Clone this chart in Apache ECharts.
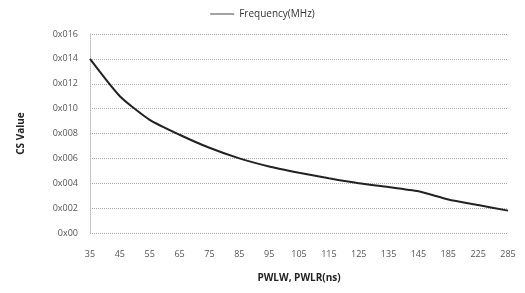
<!DOCTYPE html>
<html>
<head>
<meta charset="utf-8">
<script src="https://cdn.jsdelivr.net/npm/echarts@6/dist/echarts.min.js"></script>
<style>
html,body{margin:0;padding:0;background:#fff;}
#main{width:525px;height:293px;}
</style>
</head>
<body>
<div id="main"></div>
<script>
// PWLW, PWLR (ns) categories
var categories = ['35','45','55','65','75','85','95','105','115','125','135','145','185','225','285'];
// CS value, in units of 0x001 as drawn on the axis
var csValues = [14, 11, 9.1, 7.9, 6.85, 6.0, 5.35, 4.85, 4.4, 4.0, 3.7, 3.35, 2.7, 2.25, 1.8];
var yTicks = [0, 2, 4, 6, 8, 10, 12, 14, 16];

var chart = echarts.init(document.getElementById('main'));

function hexLabel(v){
    if (v === 0) return '0x00';
    return '0x0' + (v < 10 ? '0' + v : v);
}

var option = {
    animation: false,
    textStyle: {fontFamily: 'Open Sans'},
    legend: {
        top: 4,
        left: 'center',
        itemWidth: 24,
        itemHeight: 1,
        icon: 'rect',
        textStyle: {fontSize: 10, color: '#333'},
        data: ['Frequency(MHz)']
    },
    grid: {left: 90, right: 17, top: 34, bottom: 60},
    xAxis: {
        type: 'category',
        data: categories,
        boundaryGap: false,
        name: 'PWLW, PWLR(ns)',
        nameLocation: 'middle',
        nameGap: 40,
        nameTextStyle: {fontWeight: 'bold', fontSize: 10, color: '#222'},
        axisLine: {show: false},
        axisTick: {show: false},
        axisLabel: {fontSize: 9, color: '#555', margin: 17}
    },
    yAxis: {
        type: 'value',
        min: yTicks[0],
        max: yTicks[yTicks.length - 1],
        interval: 2,
        name: 'CS Value',
        nameLocation: 'middle',
        nameGap: 64,
        nameTextStyle: {fontWeight: 'bold', fontSize: 10, color: '#222'},
        axisLine: {show: true, lineStyle: {color: '#bbb', type: 'dotted'}},
        axisTick: {show: false},
        axisLabel: {fontSize: 9, color: '#555', margin: 12, formatter: hexLabel},
        splitLine: {lineStyle: {color: '#aaa', type: 'dotted'}}
    },
    series: [{
        name: 'Frequency(MHz)',
        type: 'line',
        data: csValues,
        showSymbol: false,
        smooth: 0.2,
        lineStyle: {color: '#222', width: 2},
        itemStyle: {color: '#444'}
    }]
};
chart.setOption(option);
</script>
</body>
</html>
